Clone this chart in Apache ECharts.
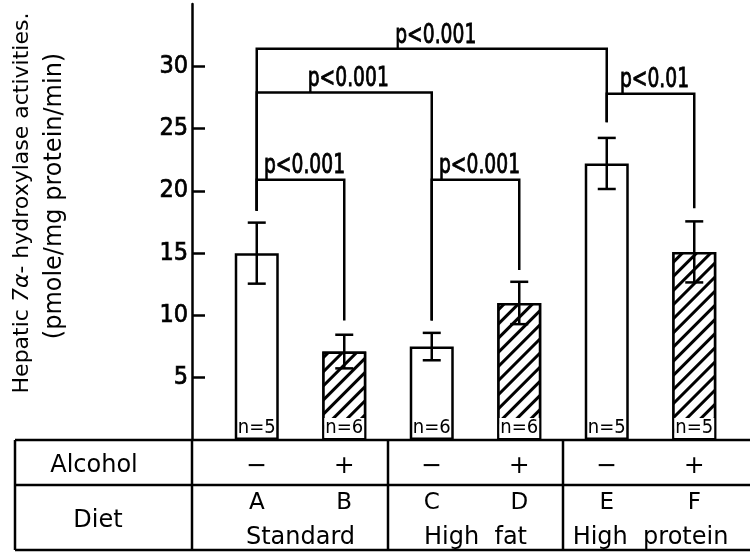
<!DOCTYPE html>
<html>
<head>
<meta charset="utf-8">
<script src="https://cdn.jsdelivr.net/npm/echarts@6/dist/echarts.min.js"></script>
<style>
  html, body { margin: 0; background: #fff; }
  #main { width: 750px; height: 556px; }
</style>
</head>
<body>
<div id="main"></div>
<script>
// data
const categories = ['A', 'B', 'C', 'D', 'E', 'F'];
const alcohol = ['−', '+', '−', '+', '−', '+'];
const dietGroups = ['Standard', 'High  fat', 'High  protein'];
const means = [15.0, 7.1, 7.5, 11.0, 22.2, 15.1];
const sds = [2.45, 1.35, 1.1, 1.7, 2.05, 2.45];
const nCounts = [5, 6, 6, 6, 5, 5];
const yTicks = [5, 10, 15, 20, 25, 30];
// [from, to, bracket top, from-leg bottom, to-leg bottom]
const brackets = [
  [0, 4, 31.4, 18.4, 25.5],
  [0, 2, 27.9, 18.4, 9.6],
  [0, 1, 20.9, 18.4, 9.6],
  [2, 3, 20.9, 9.6, 13.65],
  [4, 5, 27.8, 25.5, 18.6]
];
const pLabels = ['p<0.001', 'p<0.001', 'p<0.001', 'p<0.001', 'p<0.01'];

const NARROW = '"Liberation Sans Narrow", "DejaVu Sans Condensed", sans-serif';
const WIDE = '"DejaVu Sans", sans-serif';
const GRID_LEFT = 213;
const AXIS_OFFSET = 21;
const LW = 2.5;

const hatch = {
  symbol: 'rect',
  symbolSize: 1,
  dashArrayX: [1, 0],
  dashArrayY: [3, 6.5],
  rotation: -Math.PI / 4,
  color: '#000',
  backgroundColor: '#fff'
};

const chart = echarts.init(document.getElementById('main'));

chart.setOption({
  animation: false,
  backgroundColor: '#fff',
  grid: { left: GRID_LEFT, right: 12, top: 4, bottom: 116 },
  xAxis: {
    type: 'category',
    data: categories,
    axisLine: { show: false },
    axisTick: { show: false },
    axisLabel: {
      margin: 5,
      interval: 0,
      formatter: (v, i) => '{s|' + alcohol[i] + '}\n{l|' + v + '}',
      rich: {
        s: { fontFamily: WIDE, fontSize: 25, lineHeight: 42, color: '#000' },
        l: { fontFamily: WIDE, fontSize: 23, lineHeight: 32, color: '#000' }
      }
    }
  },
  yAxis: {
    type: 'value',
    min: 0,
    max: 35,
    interval: 5,
    offset: AXIS_OFFSET,
    axisLine: { show: true, onZero: false, lineStyle: { color: '#000', width: LW } },
    axisTick: { show: true, inside: true, length: 13, customValues: yTicks, lineStyle: { color: '#000', width: LW } },
    axisLabel: {
      customValues: yTicks, margin: 4, color: '#000', fontFamily: NARROW, fontSize: 25,
      textBorderColor: '#000', textBorderWidth: 0.7
    },
    splitLine: { show: false }
  },
  series: [
    {
      type: 'bar',
      barWidth: 44,
      data: means.map((v, i) => ({
        value: v,
        itemStyle: alcohol[i] === '+' ? { decal: hatch } : {},
        label: alcohol[i] === '+' ? { backgroundColor: '#fff', padding: [0, 1] } : {}
      })),
      itemStyle: { color: '#fff', borderColor: '#000', borderWidth: LW },
      label: {
        show: true,
        position: 'insideBottom',
        distance: 2,
        formatter: p => 'n=' + nCounts[p.dataIndex],
        fontFamily: NARROW,
        fontSize: 20,
        color: '#000'
      }
    },
    {
      // error bars
      type: 'custom',
      z: 5,
      data: means.map((m, i) => [i, m, sds[i]]),
      encode: { x: 0, y: 1 },
      renderItem: (params, api) => {
        const i = api.value(0), m = api.value(1), s = api.value(2);
        const top = api.coord([i, m + s]);
        const bot = api.coord([i, m - s]);
        const x = top[0], h = 9;
        const st = { stroke: '#000', lineWidth: LW };
        return {
          type: 'group',
          children: [
            { type: 'line', shape: { x1: x, y1: top[1], x2: x, y2: bot[1] }, style: st },
            { type: 'line', shape: { x1: x - h, y1: top[1], x2: x + h, y2: top[1] }, style: st },
            { type: 'line', shape: { x1: x - h, y1: bot[1], x2: x + h, y2: bot[1] }, style: st }
          ]
        };
      }
    },
    {
      // significance brackets
      type: 'custom',
      z: 6,
      data: brackets,
      encode: { x: 0, y: 2 },
      renderItem: (params, api) => {
        const a = api.value(0), b = api.value(1), t = api.value(2);
        const pa = api.coord([a, t]);
        const pb = api.coord([b, t]);
        const ya = api.coord([a, api.value(3)])[1];
        const yb = api.coord([b, api.value(4)])[1];
        return {
          type: 'group',
          children: [
            {
              type: 'polyline',
              shape: { points: [[pa[0], ya], [pa[0], pa[1]], [pb[0], pb[1]], [pb[0], yb]] },
              style: { stroke: '#000', lineWidth: LW, fill: null }
            },
            {
              type: 'text',
              x: (pa[0] + pb[0]) / 2 + 4,
              y: pa[1],
              scaleX: 0.8,
              style: {
                text: pLabels[params.dataIndex],
                align: 'center',
                verticalAlign: 'bottom',
                fontFamily: NARROW,
                fontSize: 26,
                fill: '#000',
                stroke: '#000',
                lineWidth: 0.8
              }
            }
          ]
        };
      }
    }
  ]
});

// table under the plot and the y axis title
const px = i => chart.convertToPixel({ xAxisIndex: 0 }, i);
const y0 = chart.convertToPixel({ yAxisIndex: 0 }, 0);
const axisX = GRID_LEFT - AXIS_OFFSET;
const rowMid = 485, rowBottom = 550, tableLeft = 15, tableRight = 750;
const lineSt = { stroke: '#000', lineWidth: LW };
const hLine = y => ({ type: 'line', shape: { x1: tableLeft, y1: y, x2: tableRight, y2: y }, style: lineSt });
const vLine = x => ({ type: 'line', shape: { x1: x, y1: y0, x2: x, y2: rowBottom }, style: lineSt });
const txt = (x, y, text, size) => ({
  type: 'text', x: x, y: y,
  style: { text: text, align: 'center', verticalAlign: 'middle', fontFamily: WIDE, fontSize: size, fill: '#000' }
});

const graphic = [
  hLine(y0), hLine(rowMid), hLine(rowBottom),
  vLine(tableLeft), vLine(axisX),
  vLine((px(1) + px(2)) / 2), vLine((px(3) + px(4)) / 2),
  txt(94, (y0 + rowMid) / 2 + 3, 'Alcohol', 24),
  txt(98, (rowMid + rowBottom) / 2 + 3, 'Diet', 24)
];
dietGroups.forEach((g, k) => {
  graphic.push(txt((px(2 * k) + px(2 * k + 1)) / 2, 538, g, 24));
});
graphic.push({
  type: 'text', x: 22, y: 203, rotation: Math.PI / 2,
  style: {
    text: '{a|Hepatic }{i|7α}{a|- hydroxylase activities.}',
    align: 'center', verticalAlign: 'middle', fill: '#000',
    rich: {
      a: { fontFamily: WIDE, fontSize: 22, fill: '#000' },
      i: { fontFamily: WIDE, fontSize: 22, fontStyle: 'italic', fill: '#000' }
    }
  }
});
graphic.push({
  type: 'text', x: 55, y: 196, rotation: Math.PI / 2,
  style: { text: '(pmole/mg protein/min)', align: 'center', verticalAlign: 'middle', fontFamily: WIDE, fontSize: 24, fill: '#000' }
});
chart.setOption({ graphic: graphic });
</script>
</body>
</html>
